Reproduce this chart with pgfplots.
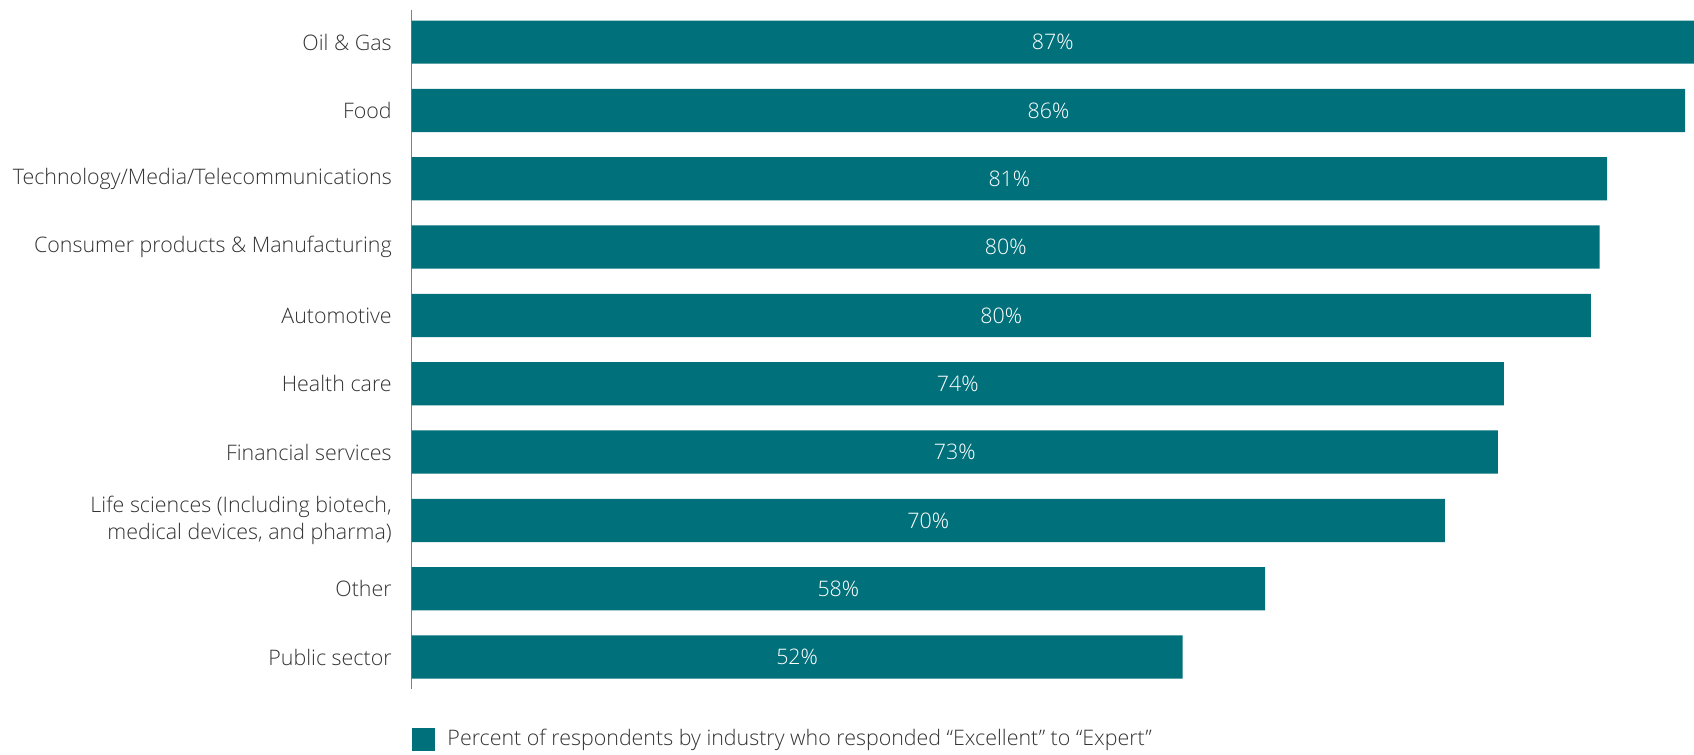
\documentclass[border=0pt]{standalone}
\usepackage{pgfplots}
\pgfplotsset{compat=1.18}
\usepackage{pgfplotstable}
\usepackage{fontspec}
\setmainfont{Open Sans}[UprightFont=* Light, BoldFont=*]
\definecolor{bar}{HTML}{00707A}
\definecolor{txt}{HTML}{333333}

% bar length and printed label per industry (top to bottom)
\pgfplotstableread{
y v lab
0 87.0 87
1 86.4 86
2 81.1 81
3 80.6 80
4 80.0 80
5 74.1 74
6 73.7 73
7 70.1 70
8 57.9 58
9 52.3 52
}\industry

\begin{document}
\begin{tikzpicture}[font=\fontsize{10.7}{13.2}\selectfont]
\useasboundingbox (-205.8pt,-32.5pt) rectangle (641pt,344.5pt);
\begin{axis}[
  at={(0,0)}, anchor=south west,
  width=641pt, height=339.5pt, scale only axis,
  xmin=0, xmax=87, ymin=-0.47, ymax=9.47, y dir=reverse,
  axis x line=none, axis y line*=left,
  y axis line style={draw=gray, line width=0.5pt},
  ytick={0,...,9},
  yticklabels={Oil \& Gas, Food, Technology/Media/Telecommunications,
    Consumer products \& Manufacturing, Automotive, Health care,
    Financial services,
    {Life sciences (Including biotech,\\medical devices, and pharma)},
    Other, Public sector},
  major tick length=0pt,
  yticklabel style={text=txt, align=right, inner sep=0pt, xshift=-9.8pt},
  legend style={at={(0,0)}, anchor=west, yshift=-25pt, draw=none,
    inner sep=0pt, text=txt, nodes={inner sep=3.3pt}},
  legend image code/.code={
    \fill[bar] (0pt,-5.7pt) rectangle (11.4pt,5.7pt);
    \path (14.4pt,0pt);},
  clip=false,
]
\addplot[xbar, bar width=21.6pt, fill=bar, draw=none] table[x=v, y=y] {\industry};
\addlegendentry{Percent of respondents by industry who responded “Excellent” to “Expert”}
\addplot[forget plot, draw=none, mark=none,
  nodes near coords={\pgfplotspointmeta\%}, point meta=explicit symbolic,
  nodes near coords style={text=white, anchor=center}]
  table[x expr=\thisrow{v}/2, y=y, meta=lab] {\industry};
\end{axis}
\end{tikzpicture}
\end{document}
